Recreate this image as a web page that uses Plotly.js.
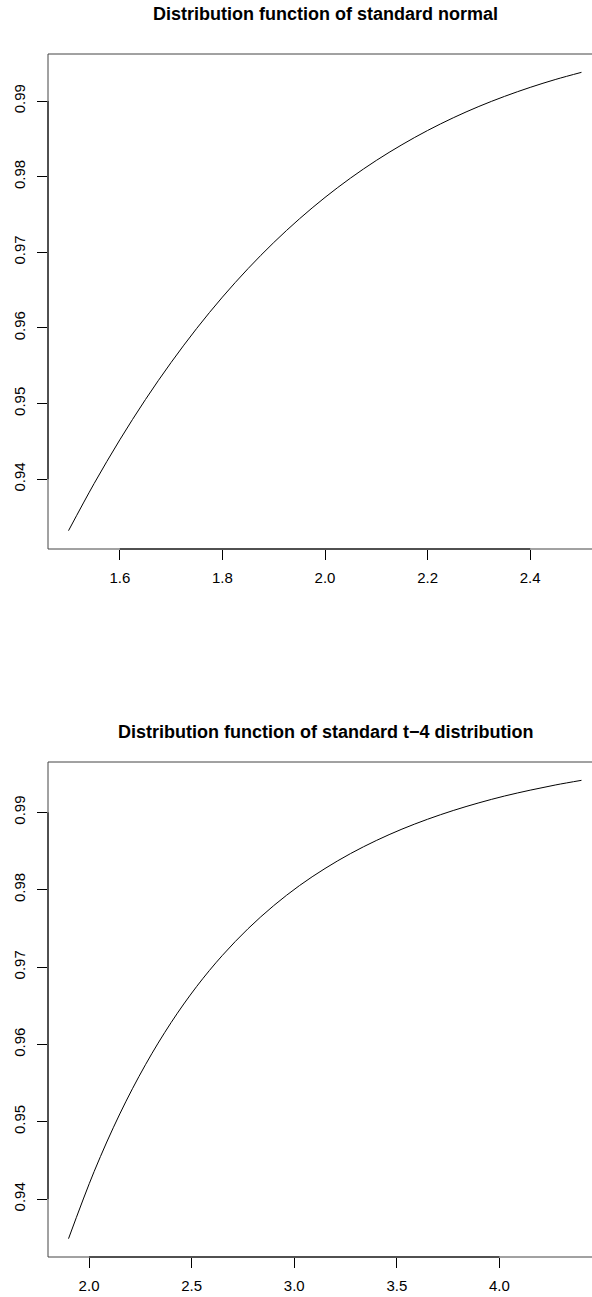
<!DOCTYPE html>
<html>
<head>
<meta charset="utf-8">
<script src="https://cdn.plot.ly/plotly-3.0.1.min.js"></script>
<style>
html,body{margin:0;padding:0;overflow:hidden;background:#fff;}
#chart{width:602px;height:1297px;}
</style>
</head>
<body>
<div id="chart"></div>
<script>
// Panel 1: standard normal distribution function
var normX = [1.50,1.55,1.60,1.65,1.70,1.75,1.80,1.85,1.90,1.95,2.00,2.05,2.10,2.15,2.20,2.25,2.30,2.35,2.40,2.45,2.50];
var normY = [0.93319,0.93943,0.94520,0.95053,0.95543,0.95994,0.96407,0.96784,0.97128,0.97441,0.97725,0.97982,0.98214,0.98422,0.98610,0.98778,0.98928,0.99061,0.99180,0.99286,0.99379];
var normXTicks = [1.6,1.8,2.0,2.2,2.4];
var normXLabels = ["1.6","1.8","2.0","2.2","2.4"];
var normYTicks = [0.94,0.95,0.96,0.97,0.98,0.99];
var normYLabels = ["0.94","0.95","0.96","0.97","0.98","0.99"];
var normTitle = "Distribution function of standard normal";

// Panel 2: standard t-4 distribution function
var tX = [1.900,2.025,2.150,2.275,2.400,2.525,2.650,2.775,2.900,3.025,3.150,3.275,3.400,3.525,3.650,3.775,3.900,4.025,4.150,4.275,4.400];
var tY = [0.93488,0.94357,0.95101,0.95737,0.96282,0.96750,0.97151,0.97496,0.97794,0.98052,0.98274,0.98468,0.98636,0.98783,0.98911,0.99024,0.99123,0.99211,0.99287,0.99355,0.99414];
var tXTicks = [2.0,2.5,3.0,3.5,4.0];
var tXLabels = ["2.0","2.5","3.0","3.5","4.0"];
var tYTicks = [0.94,0.95,0.96,0.97,0.98,0.99];
var tYLabels = ["0.94","0.95","0.96","0.97","0.98","0.99"];
var tTitle = "Distribution function of standard t\u22124 distribution";

function rrange(arr){
  var lo = Math.min.apply(null, arr), hi = Math.max.apply(null, arr);
  var d = (hi - lo) * 0.04;
  return [lo - d, hi + d];
}

var FONT = "Liberation Sans, Arial, Helvetica, sans-serif";

var traces = [
  {x: normX, y: normY, xaxis:'x', yaxis:'y', mode:'lines', line:{color:'#000', width:1, shape:'spline'}, hoverinfo:'skip'},
  {x: tX, y: tY, xaxis:'x2', yaxis:'y2', mode:'lines', line:{color:'#000', width:1, shape:'spline'}, hoverinfo:'skip'}
];

function xax(range, vals, text, anchor, dom){
  return {range: range, domain: dom, anchor: anchor, tickmode:'array', tickvals: vals, ticktext: text,
    ticks:'outside', ticklen:10, tickwidth:1, tickcolor:'#000', showgrid:false, zeroline:false, showline:false,
    tickfont:{family:FONT, size:15, color:'#000'}, ticklabelstandoff:5, fixedrange:true};
}
function yax(range, vals, text, anchor, dom){
  return {range: range, domain: dom, anchor: anchor, tickmode:'array', tickvals: vals, ticktext: text,
    ticks:'outside', ticklen:10, tickwidth:1, tickcolor:'#000', showgrid:false, zeroline:false, showline:false,
    tickangle:-90, tickfont:{family:FONT, size:15, color:'#000'}, ticklabelstandoff:6, fixedrange:true};
}

var H = 1297;
var dom1 = [1 - 549/H, 1 - 54/H];
var dom2 = [1 - 1257/H, 1 - 762/H];

var shapes = [];
function panelShapes(xr, yr, xt, yt){
  shapes.push({type:'rect', xref:xr+' domain', yref:yr+' domain', x0:0, x1:1, y0:0, y1:1, line:{color:'#444', width:1}});
  shapes.push({type:'line', xref:xr, yref:yr+' domain', x0:xt[0], x1:xt[xt.length-1], y0:0, y1:0, line:{color:'#000', width:1}});
  shapes.push({type:'line', xref:xr+' domain', yref:yr, x0:0, x1:0, y0:yt[0], y1:yt[yt.length-1], line:{color:'#000', width:1}});
}
panelShapes('x','y', normXTicks, normYTicks);
panelShapes('x2','y2', tXTicks, tYTicks);

var layout = {
  width: 602, height: H,
  margin: {l:48, r:0, t:0, b:0},
  paper_bgcolor:'#fff', plot_bgcolor:'#fff',
  showlegend:false,
  xaxis: xax(rrange(normX), normXTicks, normXLabels, 'y', [0,1]),
  yaxis: yax(rrange(normY), normYTicks, normYLabels, 'x', dom1),
  xaxis2: xax(rrange(tX), tXTicks, tXLabels, 'y2', [0,1]),
  yaxis2: yax(rrange(tY), tYTicks, tYLabels, 'x2', dom2),
  shapes: shapes,
  annotations: [
    {text:'<b>'+normTitle+'</b>', xref:'x domain', yref:'paper', x:0.5, y:1-14/H, xanchor:'center', yanchor:'middle', showarrow:false, font:{family:FONT, size:18, color:'#000'}},
    {text:'<b>'+tTitle+'</b>', xref:'x2 domain', yref:'paper', x:0.5, y:1-732/H, xanchor:'center', yanchor:'middle', showarrow:false, font:{family:FONT, size:18, color:'#000'}}
  ]
};

Plotly.newPlot('chart', traces, layout, {staticPlot:true, displayModeBar:false});
</script>
</body>
</html>
